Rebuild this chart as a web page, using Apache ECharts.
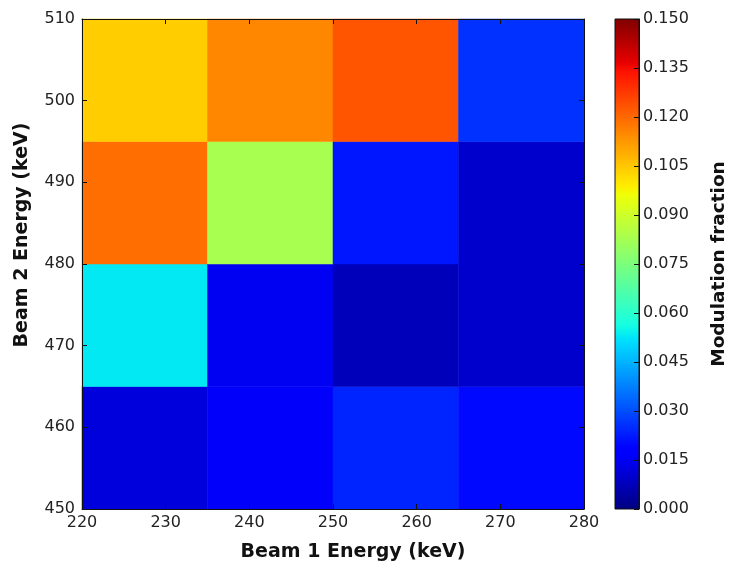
<!DOCTYPE html>
<html>
<head>
<meta charset="utf-8">
<script src="https://cdn.jsdelivr.net/npm/echarts@6/dist/echarts.min.js"></script>
<style>
html,body{margin:0;padding:0;background:#fff;}
#chart{width:730px;height:563px;}
</style>
</head>
<body>
<div id="chart"></div>
<script>
// ---- Data ----
const xStarts = [220, 235, 250, 265];
const yStarts = [450, 465, 480, 495];
const cellWidth = 15;
const cellHeight = 15;
// modulation fraction, rows from y=450 upwards, columns from x=220
const row450 = [0.012, 0.016, 0.024, 0.020];
const row465 = [0.053, 0.015, 0.0078, 0.010];
const row480 = [0.119, 0.083, 0.022, 0.010];
const row495 = [0.104, 0.115, 0.123, 0.026];
const rows = [row450, row465, row480, row495];
const xTicks = [220, 230, 240, 250, 260, 270, 280];
const yTicks = [450, 460, 470, 480, 490, 500, 510];
const cbarMin = 0, cbarMax = 0.15, cbarStep = 0.015;

// ---- jet colormap (matplotlib segment data) ----
function seg(pts, x) {
  for (let i = 0; i < pts.length - 1; i++) {
    const [x0, v0] = pts[i], [x1, v1] = pts[i + 1];
    if (x >= x0 && x <= x1) return v0 + (v1 - v0) * (x - x0) / (x1 - x0 || 1);
  }
  return pts[pts.length - 1][1];
}
const R = [[0,0],[0.35,0],[0.66,1],[0.89,1],[1,0.5]];
const G = [[0,0],[0.125,0],[0.375,1],[0.64,1],[0.91,0],[1,0]];
const B = [[0,0.5],[0.11,1],[0.34,1],[0.65,0],[1,0]];
function jet(x) {
  const c = v => Math.round(Math.max(0, Math.min(1, v)) * 255);
  return 'rgb(' + c(seg(R,x)) + ',' + c(seg(G,x)) + ',' + c(seg(B,x)) + ')';
}
const N = 101;
const jetColors = [];
for (let i = 0; i < N; i++) jetColors.push(jet(i / (N - 1)));
const jetStops = jetColors.map((c, i) => ({offset: i / (N - 1), color: c}));

const cells = [];
rows.forEach((r, j) => r.forEach((v, i) => cells.push([xStarts[i], yStarts[j], v])));

const FONT = 'DejaVu Sans';
const chart = echarts.init(document.getElementById('chart'));
const labelStyle = {fontFamily: FONT, fontSize: 16, color: '#222'};
const nameStyle = {fontFamily: FONT, fontSize: 19, fontWeight: 'bold', color: '#111'};
const lineStyle = {lineStyle: {color: '#111', width: 1}};

chart.setOption({
  animation: false,
  textStyle: {fontFamily: FONT},
  grid: [
    {left: 82, top: 19, width: 502, height: 490, outerBoundsMode: 'none', containLabel: false},
    {left: 615, top: 19, width: 24, height: 490, outerBoundsMode: 'none', containLabel: false}
  ],
  xAxis: [
    {gridIndex: 0, type: 'value', min: 220, max: 280, interval: 10, z: 10,
     axisLine: {show: true, onZero: false, ...lineStyle},
     axisTick: {show: true, inside: true, length: 5, lineStyle: {color: '#111'}},
     axisLabel: {...labelStyle, margin: 6},
     splitLine: {show: false},
     name: 'Beam 1 Energy (keV)', nameLocation: 'middle', nameGap: 34,
     nameTextStyle: {...nameStyle, padding: [0, 0, 0, 40]}},
    {gridIndex: 0, type: 'value', position: 'top', min: 220, max: 280, interval: 10, z: 10,
     axisLine: {show: true, onZero: false, ...lineStyle},
     axisTick: {show: true, inside: true, length: 5, lineStyle: {color: '#111'}},
     axisLabel: {show: false}, splitLine: {show: false}},
    {gridIndex: 1, type: 'value', min: 0, max: 1, show: false}
  ],
  yAxis: [
    {gridIndex: 0, type: 'value', min: 450, max: 510, interval: 10, z: 10,
     axisLine: {show: true, onZero: false, ...lineStyle},
     axisTick: {show: true, inside: true, length: 5, lineStyle: {color: '#111'}},
     axisLabel: {...labelStyle, margin: 7},
     splitLine: {show: false},
     name: 'Beam 2 Energy (keV)', nameLocation: 'middle', nameGap: 50, nameRotate: 90,
     nameTextStyle: {...nameStyle, padding: [0, 0, 0, 58]}},
    {gridIndex: 0, type: 'value', position: 'right', min: 450, max: 510, interval: 10, z: 10,
     axisLine: {show: true, onZero: false, ...lineStyle},
     axisTick: {show: true, inside: true, length: 5, lineStyle: {color: '#111'}},
     axisLabel: {show: false}, splitLine: {show: false}},
    {gridIndex: 1, type: 'value', position: 'right', min: cbarMin, max: cbarMax, interval: cbarStep, z: 10,
     axisLine: {show: true, onZero: false, ...lineStyle},
     axisTick: {show: true, inside: true, length: 5, lineStyle: {color: '#111'}},
     axisLabel: {...labelStyle, margin: 4, formatter: v => v.toFixed(3)},
     splitLine: {show: false},
     name: 'Modulation fraction', nameLocation: 'middle', nameGap: 71, nameRotate: 90,
     nameTextStyle: {...nameStyle, fontSize: 18.5}}
  ],
  visualMap: {
    type: 'continuous', show: false, min: cbarMin, max: cbarMax, dimension: 2, seriesIndex: 0,
    inRange: {color: jetColors}
  },
  series: [
    {
      type: 'custom', xAxisIndex: 0, yAxisIndex: 0, data: cells,
      renderItem: function (params, api) {
        const x0 = api.value(0), y0 = api.value(1);
        const p0 = api.coord([x0, y0]);
        const p1 = api.coord([x0 + cellWidth, y0 + cellHeight]);
        return {type: 'rect',
          shape: {x: p0[0], y: p1[1], width: p1[0] - p0[0], height: p0[1] - p1[1]},
          style: {fill: api.visual('color'), stroke: api.visual('color'), lineWidth: 0.5}};
      }
    },
    {
      type: 'custom', xAxisIndex: 2, yAxisIndex: 2, data: [[0, cbarMin, 1, cbarMax]],
      renderItem: function (params, api) {
        const p0 = api.coord([api.value(0), api.value(1)]);
        const p1 = api.coord([api.value(2), api.value(3)]);
        return {type: 'rect',
          shape: {x: p0[0], y: p1[1], width: p1[0] - p0[0], height: p0[1] - p1[1]},
          style: {fill: {type: 'linear', x: 0, y: 1, x2: 0, y2: 0, colorStops: jetStops},
                  stroke: '#111', lineWidth: 1}};
      }
    }
  ]
});
</script>
</body>
</html>
